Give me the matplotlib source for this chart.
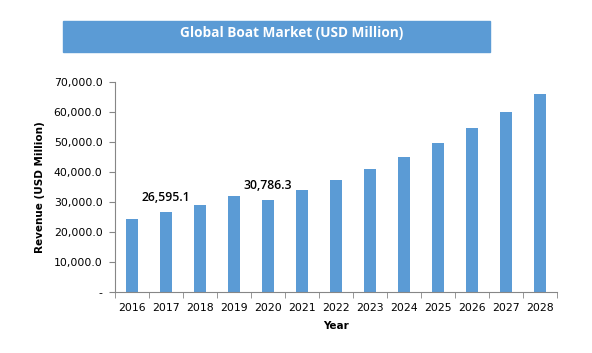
import numpy as np
import matplotlib
matplotlib.use("Agg")
import matplotlib.pyplot as plt
from matplotlib.patches import Rectangle
from matplotlib.ticker import FuncFormatter

years = ["2016", "2017", "2018", "2019", "2020", "2021", "2022",
         "2023", "2024", "2025", "2026", "2027", "2028"]
revenue = [24300, 26595.1, 29000, 32000, 30786.3, 34000, 37300,
           41000, 45000, 49700, 54700, 60000, 66000]
labelled = {"2017": 26595.1, "2020": 30786.3}

bar_color = "#5B9BD5"
axis_color = "#868686"

fig = plt.figure(figsize=(5.92, 3.53), dpi=100)
# title banner
fig.patches.append(Rectangle((63 / 592, 1 - 52 / 353), 427 / 592, 31 / 353,
                             transform=fig.transFigure, color=bar_color, zorder=0))
fig.text(292 / 592, 1 - 33 / 353, "Global Boat Market (USD Million)", color="white",
         fontsize=9.8, fontweight="bold", ha="center", va="center", family="Open Sans")

ax = fig.add_axes([115 / 592, 1 - 292 / 353, 442 / 592, 210 / 353])
x = np.arange(len(years))
ax.bar(x, revenue, width=0.38, color=bar_color, zorder=2)

for yr, val in labelled.items():
    i = years.index(yr)
    ax.text(i, val + 2700, f"{val:,.1f}", ha="center", va="bottom",
            fontsize=8.8, fontweight=600, color="black", family="Open Sans")

ax.set_xlim(-0.5, len(years) - 0.5)
ax.set_ylim(0, 70000)
ax.set_yticks(np.arange(0, 70001, 10000))
ax.yaxis.set_major_formatter(FuncFormatter(lambda v, p: "-" if v == 0 else f"{v:,.1f}"))
ax.set_xticks(x)
ax.set_xticklabels(years)
ax.set_xticks(np.arange(-0.5, len(years), 1), minor=True)
ax.tick_params(axis="x", which="major", length=0, labelsize=7.8, pad=8)
ax.tick_params(axis="x", which="minor", length=4, color=axis_color, direction="out")
ax.tick_params(axis="y", length=4, color=axis_color, labelsize=7.8, pad=5)

for side in ["top", "right"]:
    ax.spines[side].set_visible(False)
for side in ["left", "bottom"]:
    ax.spines[side].set_color(axis_color)

ax.set_xlabel("Year", fontsize=7.5, fontweight="bold", labelpad=6)
ax.set_ylabel("Revenue (USD Million)", fontsize=7.5, fontweight="bold", labelpad=6)

fig.savefig("out.png", dpi=100)
